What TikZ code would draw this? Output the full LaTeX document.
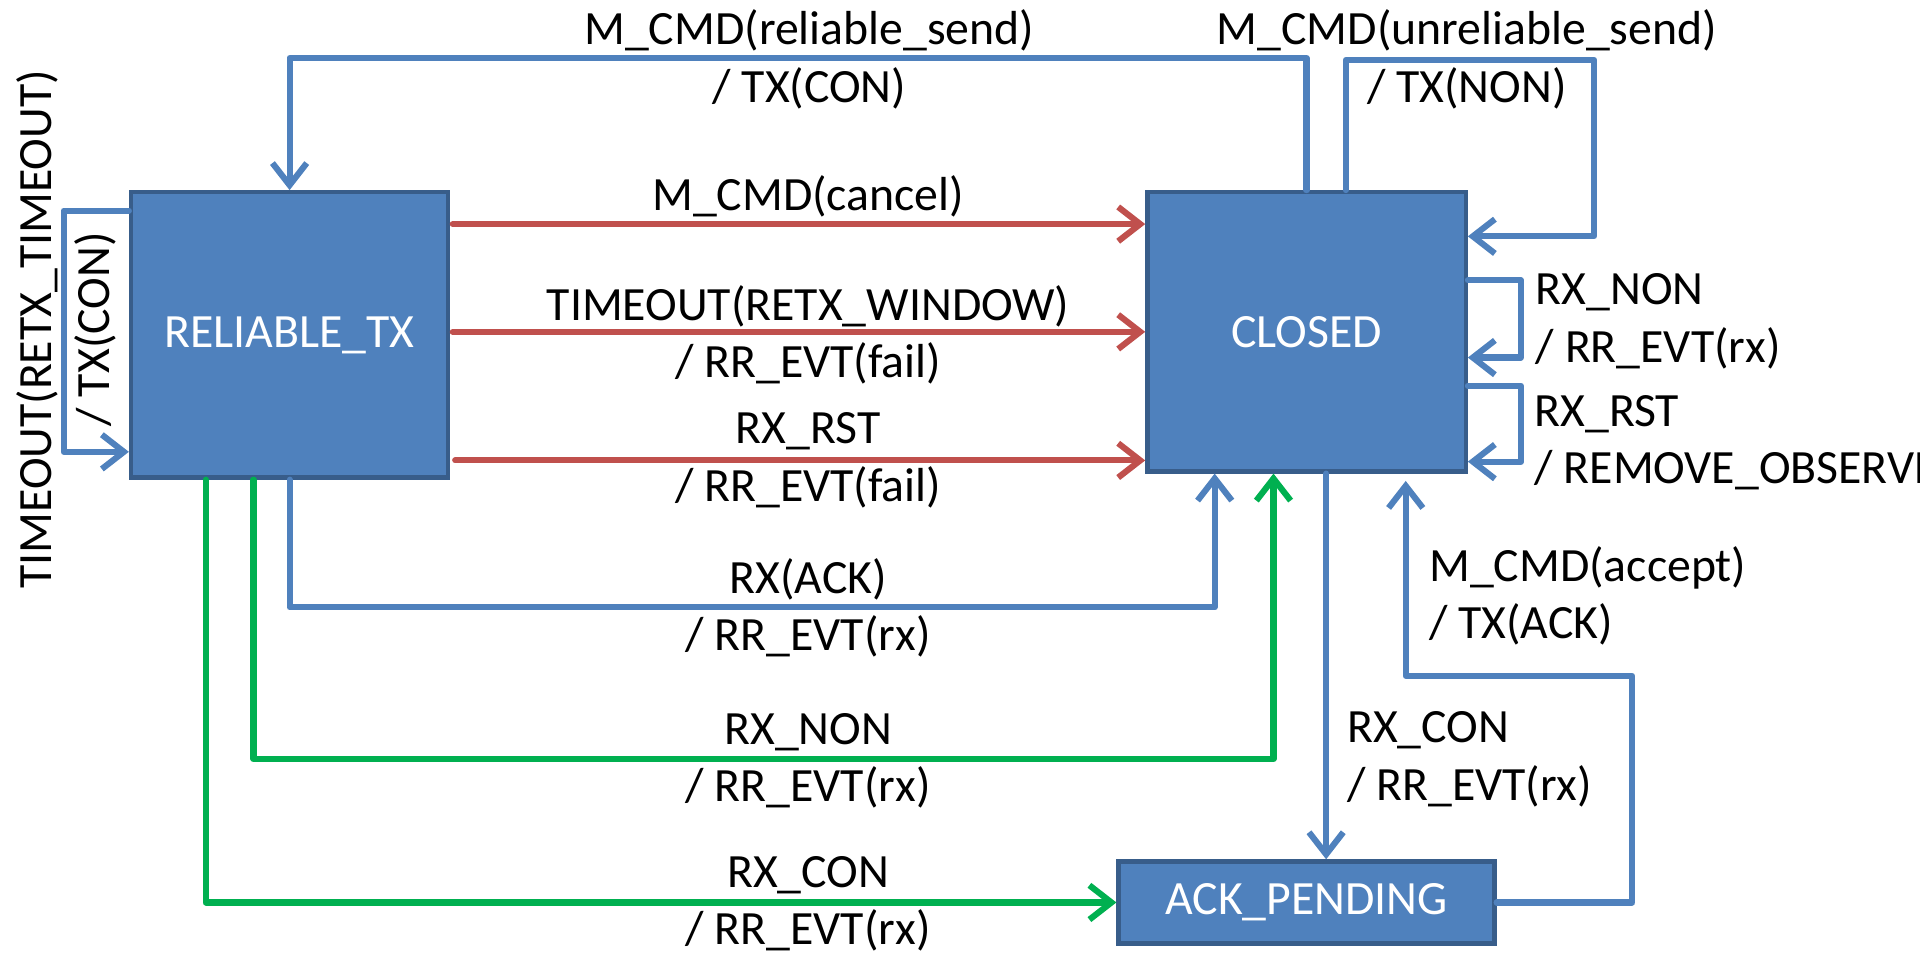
\documentclass[tikz,border=0pt]{standalone}
\usepackage{fontspec}
\setmainfont{Carlito}
\usepackage{xcolor}
\usepackage{tikz}
\usetikzlibrary{arrows.meta,positioning}

\definecolor{boxblue}{HTML}{4F81BD}
\definecolor{boxedge}{HTML}{385D8A}
\definecolor{linered}{HTML}{C0504D}
\definecolor{linegreen}{HTML}{00B050}

\begin{document}
\begin{tikzpicture}[
    x=1pt, y=-1pt,
    font=\fontsize{39}{47}\selectfont,
    state/.style={rectangle, draw=boxedge, line width=3.5pt, fill=boxblue, text=white},
    conn/.style={line width=5pt, line cap=round, line join=round, -{Straight Barb[length=18pt,width=28pt]}},
    bline/.style={conn, draw=boxblue},
    rline/.style={conn, draw=linered},
    gline/.style={conn, draw=linegreen},
    lbl/.style={align=center, inner sep=0pt},
    lbll/.style={align=left, anchor=west, inner sep=0pt}
]
\useasboundingbox (0,0) rectangle (1568,781);
\clip (0,0) rectangle (1568,781);

% states
\node[state, minimum width=259pt, minimum height=233pt] (rtx) at (236.5,273.5) {RELIABLE\_TX};
\node[state, minimum width=260pt, minimum height=228pt] (closed) at (1067,271) {CLOSED};
\node[state, minimum width=307pt, minimum height=67pt, below=315pt of closed] (apend) {ACK\_PENDING};

% closed -> reliable_tx, and closed self loop on top
\draw[bline] (closed.north) -- ++(0,-108) -| (rtx.north);
\draw[bline] ([xshift=32pt]closed.north) |- (1302,49) |- (closed.east |- 0,193);
\node[lbl] (lrelsend) at (661,48.5) {M\_CMD(reliable\_send)\\/ TX(CON)};
\node[lbl] (lunrelsend) at (1198,48.5) {M\_CMD(unreliable\_send)\\/ TX(NON)};

% reliable_tx self loop
\draw[bline] (rtx.west |- 0,172) -- (52,172) |- (rtx.west |- 0,369);
\node[lbl, rotate=90] (lretx) at (54,269) {TIMEOUT(RETX\_TIMEOUT)\\/ TX(CON)};

% reliable_tx -> closed (red)
\draw[rline] ([xshift=2pt]rtx.east |- 0,183) -- (closed.west |- 0,183);
\draw[rline] ([xshift=2pt]rtx.east |- 0,271) -- (closed.west |- 0,271);
\draw[rline] ([xshift=4pt]rtx.east |- 0,376) -- (closed.west |- 0,376);
\node[lbl] (lcancel) at (660,160) {M\_CMD(cancel)};
\node[lbl] (lwindow) at (660,273.5) {TIMEOUT(RETX\_WINDOW)\\/ RR\_EVT(fail)};
\node[lbl] (lrst) at (660,376) {RX\_RST\\/ RR\_EVT(fail)};

% reliable_tx -> closed / ack_pending from below
\draw[bline] (rtx.south) |- (992,496) -- (closed.south -| 992,0);
\draw[gline] ([xshift=-29.5pt]rtx.south) |- (1040,620) -- (closed.south -| 1040,0);
\draw[gline] ([xshift=-68.5pt]rtx.south) |- (apend.west);
\node[lbl] (lack) at (660,496.5) {RX(ACK)\\/ RR\_EVT(rx)};
\node[lbl] (lnon) at (660,621.5) {RX\_NON\\/ RR\_EVT(rx)};
\node[lbl] (lcon) at (660,738) {RX\_CON\\/ RR\_EVT(rx)};

% closed self loops on the right
\draw[bline] (closed.east |- 0,229) -| (1242,292) -- (closed.east |- 0,292);
\draw[bline] (closed.east |- 0,315) -| (1242,377) -- (closed.east |- 0,377);
\node[lbll] (lrxnon) at (1254,262.5) {RX\_NON\\/ RR\_EVT(rx)};
\node[lbll] (lrxrst) at (1253,361.5) {RX\_RST\\/ REMOVE\_OBSERVER};

% closed <-> ack_pending
\draw[bline] (closed.south -| 1083,0) -- (apend.north -| 1083,0);
\draw[bline] (apend.east) -| (1333,552) -| ([yshift=-6pt]closed.south -| 1148,0);
\node[lbll] (laccept) at (1167,486.5) {M\_CMD(accept)\\/ TX(ACK)};
\node[lbll] (lrxcon) at (1100,620) {RX\_CON\\/ RR\_EVT(rx)};
\end{tikzpicture}
\end{document}
